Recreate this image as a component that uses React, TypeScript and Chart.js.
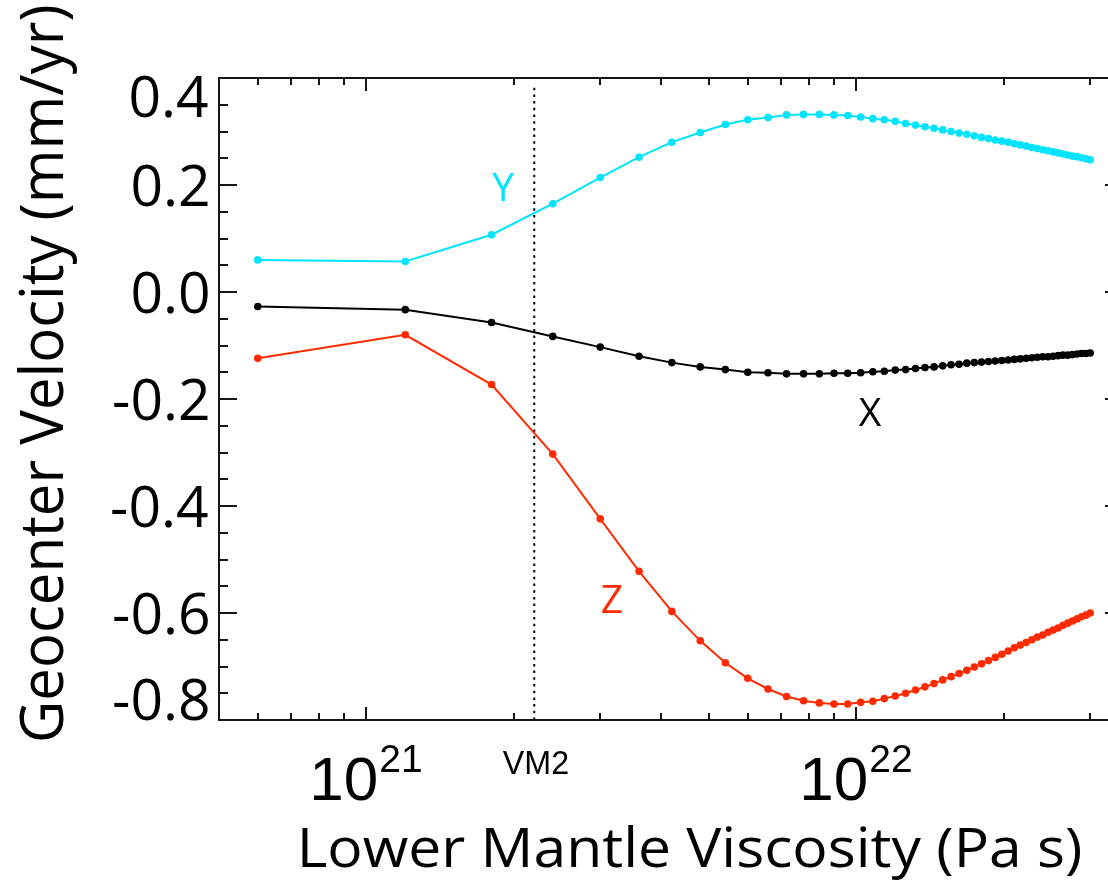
import React, { useEffect, useRef } from 'react';
import { Chart, registerables } from 'chart.js';

Chart.register(...registerables);

// Lower mantle viscosity (Pa s) of each model
const viscosity = [
  6e20, 1.2e21, 1.8e21, 2.4e21, 3.0e21, 3.6e21, 4.2e21, 4.8e21, 5.4e21, 6.0e21,
  6.6e21, 7.2e21, 7.8e21, 8.4e21, 9.0e21, 9.6e21, 1.02e22, 1.08e22, 1.14e22, 1.2e22,
  1.26e22, 1.32e22, 1.38e22, 1.44e22, 1.5e22, 1.56e22, 1.62e22, 1.68e22, 1.74e22, 1.8e22,
  1.86e22, 1.92e22, 1.98e22, 2.04e22, 2.1e22, 2.16e22, 2.22e22, 2.28e22, 2.34e22, 2.4e22,
  2.46e22, 2.52e22, 2.58e22, 2.64e22, 2.7e22, 2.76e22, 2.82e22, 2.88e22, 2.94e22, 3.0e22,
];

// Geocenter velocity components (mm/yr)
const velocityY = [
  0.060, 0.057, 0.107, 0.165, 0.214, 0.252, 0.280, 0.298, 0.313, 0.322,
  0.326, 0.331, 0.332, 0.332, 0.331, 0.330, 0.327, 0.324, 0.322, 0.319,
  0.315, 0.312, 0.309, 0.306, 0.303, 0.300, 0.297, 0.295, 0.292, 0.289,
  0.287, 0.284, 0.282, 0.280, 0.277, 0.275, 0.273, 0.270, 0.268, 0.266,
  0.264, 0.262, 0.260, 0.258, 0.256, 0.254, 0.253, 0.251, 0.249, 0.247,
];

const velocityX = [
  -0.027, -0.033, -0.057, -0.083, -0.103, -0.120, -0.132, -0.140, -0.145, -0.150,
  -0.151, -0.153, -0.153, -0.153, -0.152, -0.152, -0.151, -0.149, -0.148, -0.146,
  -0.145, -0.143, -0.141, -0.140, -0.138, -0.136, -0.135, -0.133, -0.132, -0.131,
  -0.130, -0.129, -0.128, -0.127, -0.126, -0.125, -0.124, -0.123, -0.122, -0.121,
  -0.121, -0.120, -0.119, -0.118, -0.118, -0.117, -0.116, -0.115, -0.115, -0.114,
];

const velocityZ = [
  -0.124, -0.080, -0.173, -0.303, -0.424, -0.522, -0.597, -0.652, -0.693, -0.722,
  -0.742, -0.756, -0.764, -0.768, -0.770, -0.770, -0.767, -0.765, -0.760, -0.755,
  -0.750, -0.744, -0.738, -0.732, -0.725, -0.719, -0.713, -0.707, -0.701, -0.695,
  -0.689, -0.683, -0.677, -0.671, -0.665, -0.660, -0.655, -0.650, -0.645, -0.641,
  -0.636, -0.632, -0.628, -0.623, -0.619, -0.615, -0.611, -0.607, -0.604, -0.600,
];

// Reference model VM2
const vm2Viscosity = 2.2e21;
const vm2Range = [-0.8, 0.385];

// Axis ticks
const yMajorTicks = [0.4, 0.2, 0.0, -0.2, -0.4, -0.6, -0.8];
const yTickLabels = ['0.4', '0.2', '0.0', '-0.2', '-0.4', '-0.6', '-0.8'];
const yMinorTicks = [
  0.35, 0.3, 0.25, 0.15, 0.1, 0.05, -0.05, -0.1, -0.15, -0.25, -0.3, -0.35,
  -0.45, -0.5, -0.55, -0.65, -0.7, -0.75,
];
const xMajorTicks = [1e21, 1e22];
const xMajorExponents = ['21', '22'];
const xMinorTicks = [
  6e20, 7e20, 8e20, 9e20, 2e21, 3e21, 4e21, 5e21, 6e21, 7e21, 8e21, 9e21, 2e22, 3e22,
];

// Curve labels: text and anchor in data units
const curveLabelText = ['Y', 'X', 'Z'];
const curveLabelAt = [
  [1.9e21, 0.196],
  [1.066e22, -0.224],
  [3.17e21, -0.574],
];

const CYAN = '#00E4FF';
const RED = '#FF2B00';
const BLACK = '#000000';
const curveColors = [CYAN, BLACK, RED];

const HUMANIST = '"Open Sans", "Noto Sans", sans-serif';
const HELV = '"Liberation Sans", Arial, sans-serif';

function fitTextH(ctx: CanvasRenderingContext2D, text: string, inkLeft: number, inkRight: number, baseline: number) {
  ctx.textAlign = 'left';
  ctx.textBaseline = 'alphabetic';
  const m = ctx.measureText(text);
  const inkW = m.actualBoundingBoxLeft + m.actualBoundingBoxRight;
  const sx = (inkRight - inkLeft) / inkW;
  ctx.save();
  ctx.translate(inkLeft + m.actualBoundingBoxLeft * sx, baseline);
  ctx.scale(sx, 1);
  ctx.fillText(text, 0, 0);
  ctx.restore();
}

const framePlugin = {
  id: 'idlFrame',
  afterDatasetsDraw(chart: any) {
    const { ctx, chartArea: a, scales } = chart;
    const xs = scales.x;
    const ys = scales.y;
    ctx.save();

    // frame
    ctx.strokeStyle = '#151515';
    ctx.lineWidth = 2;
    ctx.strokeRect(a.left, a.top, a.right - a.left, a.bottom - a.top);

    // y ticks (left and right, inward)
    ctx.beginPath();
    const yTick = (v: number, len: number) => {
      const py = Math.round(ys.getPixelForValue(v));
      ctx.moveTo(a.left, py);
      ctx.lineTo(a.left + len, py);
      ctx.moveTo(a.right, py);
      ctx.lineTo(a.right - len, py);
    };
    yMajorTicks.forEach((v) => yTick(v, 18));
    yMinorTicks.forEach((v) => yTick(v, 9));
    // x ticks (top and bottom, inward)
    const xTick = (v: number, len: number) => {
      const px = Math.round(xs.getPixelForValue(v));
      ctx.moveTo(px, a.bottom);
      ctx.lineTo(px, a.bottom - len);
      ctx.moveTo(px, a.top);
      ctx.lineTo(px, a.top + len);
    };
    xMajorTicks.forEach((v) => xTick(v, 13));
    xMinorTicks.forEach((v) => xTick(v, 7));
    ctx.stroke();

    // y tick labels
    ctx.fillStyle = '#000';
    ctx.font = `57px ${HUMANIST}`;
    ctx.textAlign = 'right';
    ctx.textBaseline = 'alphabetic';
    yMajorTicks.forEach((v, i) => {
      const py = ys.getPixelForValue(v);
      const center = Math.min(Math.max(py, a.top + 17.5), a.bottom - 21);
      const m = ctx.measureText(yTickLabels[i]);
      ctx.fillText(yTickLabels[i], 208 - m.actualBoundingBoxRight, center + m.actualBoundingBoxAscent / 2);
    });

    // x tick labels 10^n
    xMajorTicks.forEach((v, i) => {
      const px = xs.getPixelForValue(v);
      ctx.font = `62px ${HELV}`;
      const w1 = ctx.measureText('10').width;
      ctx.font = `39px ${HELV}`;
      const w2 = ctx.measureText(xMajorExponents[i]).width;
      const start = px - (w1 + w2) / 2 - 1;
      ctx.textAlign = 'left';
      ctx.font = `62px ${HELV}`;
      ctx.fillText('10', start, 800);
      ctx.font = `39px ${HELV}`;
      ctx.fillText(xMajorExponents[i], start + w1 + 1, 772);
    });

    // VM2 label
    ctx.font = `33px ${HELV}`;
    const vx = xs.getPixelForValue(vm2Viscosity);
    fitTextH(ctx, 'VM2', vx - 31.5, vx + 33.5, 774);

    // curve labels
    ctx.font = `39px ${HUMANIST}`;
    ctx.textAlign = 'center';
    curveLabelText.forEach((t, i) => {
      const px = xs.getPixelForValue(curveLabelAt[i][0]);
      const py = ys.getPixelForValue(curveLabelAt[i][1]);
      const m = ctx.measureText(t);
      ctx.fillStyle = curveColors[i];
      ctx.fillText(t, px, py + m.actualBoundingBoxAscent / 2);
    });

    // axis titles
    ctx.fillStyle = '#000';
    ctx.font = `55px ${HUMANIST}`;
    fitTextH(ctx, 'Lower Mantle Viscosity (Pa s)', 302, 1081, 867);

    ctx.font = `60px ${HUMANIST}`;
    ctx.save();
    ctx.translate(63, 740);
    ctx.rotate(-Math.PI / 2);
    fitTextH(ctx, 'Geocenter Velocity (mm/yr)', 0, 734, 0);
    ctx.restore();

    ctx.restore();
  },
};

export default function App() {
  const canvasRef = useRef<HTMLCanvasElement | null>(null);

  useEffect(() => {
    document.body.style.margin = '0';
    document.body.style.overflow = 'hidden';
    const canvas = canvasRef.current;
    if (!canvas) return;

    const series = [velocityY, velocityX, velocityZ].map((vals, s) => ({
      label: curveLabelText[s],
      data: viscosity.map((v, i) => ({ x: v, y: vals[i] })),
      borderColor: curveColors[s],
      backgroundColor: curveColors[s],
      pointBackgroundColor: curveColors[s],
      pointBorderWidth: 0,
      pointRadius: 3.8,
      borderWidth: 2,
      tension: 0,
    }));

    const chart = new Chart(canvas, {
      type: 'line',
      data: {
        datasets: [
          ...series,
          {
            label: 'VM2',
            data: vm2Range.map((y) => ({ x: vm2Viscosity, y })),
            borderColor: '#000',
            borderWidth: 2,
            borderDash: [2.5, 4.2],
            pointRadius: 0,
            tension: 0,
          },
        ],
      },
      options: {
        responsive: false,
        animation: false,
        devicePixelRatio: 1,
        layout: { padding: { left: 219, top: 78, right: 7, bottom: 162 } },
        plugins: {
          legend: { display: false },
          tooltip: { enabled: false },
          title: { display: false },
        },
        scales: {
          x: { type: 'logarithmic', min: 5e20, max: 3.5e22, display: false },
          y: { type: 'linear', min: -0.8, max: 0.4, display: false },
        },
      },
      plugins: [framePlugin],
    } as any);

    return () => chart.destroy();
  }, []);

  return (
    <div style={{ width: 1108, height: 882, overflow: 'hidden', background: '#fff', position: 'relative' }}>
      <canvas ref={canvasRef} width={1130} height={882} style={{ width: 1130, height: 882, display: 'block' }} />
    </div>
  );
}
